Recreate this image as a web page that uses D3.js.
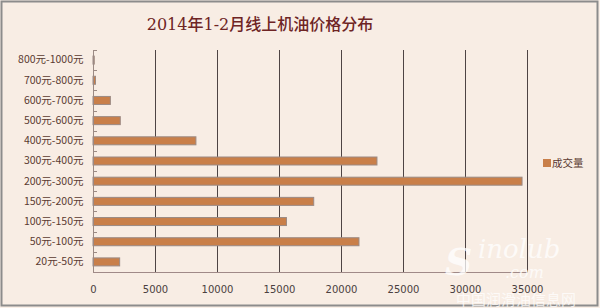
<!DOCTYPE html>
<html>
<head>
<meta charset="utf-8">
<script src="https://cdn.jsdelivr.net/npm/d3@7"></script>
<style>
  body { margin: 0; background: #fff; }
  svg { display: block; }
</style>
</head>
<body>
<script>
var categories = ['800元-1000元', '700元-800元', '600元-700元', '500元-600元', '400元-500元',
    '300元-400元', '200元-300元', '150元-200元', '100元-150元', '50元-100元', '20元-50元'];
var volumes = [100, 200, 1400, 2200, 8300, 22900, 34600, 17800, 15600, 21450, 2150];
var xTicks = [0, 5000, 10000, 15000, 20000, 25000, 30000, 35000];
var seriesName = '成交量';

window.document.addEventListener('DOMContentLoaded', init, false);

function init() {
    var width = 600, height = 308;
    var svg = d3.select('body').append('svg')
        .attr('width', width)
        .attr('height', height);

    // background + frame
    svg.append('rect')
        .attr('x', 0).attr('y', 0)
        .attr('width', width).attr('height', height)
        .attr('fill', '#faf0e8');
    svg.append('rect')
        .attr('x', 1.5).attr('y', 1.5)
        .attr('width', width - 4).attr('height', height - 4)
        .attr('fill', '#f8ede4')
        .attr('stroke', '#8c8c8c')
        .attr('stroke-width', 2);

    var left = 93, right = 527, top = 50, bottom = 272;

    var x = d3.scaleLinear().domain([0, 35000]).range([left, right]);
    var y = d3.scaleBand().domain(categories).range([top, bottom]);

    // title
    svg.append('text')
        .attr('x', 260).attr('y', 30)
        .attr('text-anchor', 'middle')
        .attr('font-family', '"DejaVu Serif", "Liberation Serif", "Noto Sans CJK SC", serif')
        .attr('font-size', 16)
        .attr('font-weight', 500)
        .attr('fill', '#6e2424')
        .text('2014年1-2月线上机油价格分布');

    // gridlines
    svg.append('g').selectAll('line')
        .data(xTicks.slice(1))
        .enter().append('line')
        .attr('x1', (d) => Math.round(x(d)) + 0.5)
        .attr('x2', (d) => Math.round(x(d)) + 0.5)
        .attr('y1', top)
        .attr('y2', bottom)
        .attr('stroke', '#4e4444')
        .attr('stroke-width', 1);

    // bars
    var bh = 8;
    svg.append('g').selectAll('rect')
        .data(categories)
        .enter().append('rect')
        .attr('x', x(0))
        .attr('y', (d) => y(d) + y.bandwidth() / 2 - bh / 2)
        .attr('width', (d, i) => x(volumes[i]) - x(0))
        .attr('height', bh)
        .attr('fill', '#c97f49')
        .attr('stroke', '#9b8a84')
        .attr('stroke-width', 1);

    // axes
    var yAxis = svg.append('g')
        .attr('transform', `translate(${left + 0.5},0)`)
        .call(d3.axisLeft(y).tickSize(0).tickPadding(10));
    yAxis.select('.domain').remove();
    yAxis.selectAll('text')
        .attr('font-family', '"Noto Sans CJK SC", "DejaVu Sans", sans-serif')
        .attr('font-size', 10.5)
        .attr('fill', '#5a3a30');

    // small band ticks pointing right
    svg.append('g').selectAll('line')
        .data(categories)
        .enter().append('line')
        .attr('x1', left)
        .attr('x2', left + 4)
        .attr('y1', (d) => Math.round(y(d)) + 0.5)
        .attr('y2', (d) => Math.round(y(d)) + 0.5)
        .attr('stroke', '#9b8a84');

    svg.append('line')
        .attr('x1', left + 0.5).attr('x2', left + 0.5)
        .attr('y1', top).attr('y2', bottom)
        .attr('stroke', '#9b8a84');
    svg.append('line')
        .attr('x1', left).attr('x2', right + 1)
        .attr('y1', bottom + 0.5).attr('y2', bottom + 0.5)
        .attr('stroke', '#a08a88');

    // watermark (drawn under the tick labels)
    var wm = svg.append('g').attr('fill', '#ffffff').attr('opacity', 0.75);
    wm.append('text')
        .attr('x', 445).attr('y', 275)
        .attr('font-family', '"DejaVu Serif", serif')
        .attr('font-style', 'italic')
        .attr('font-weight', 'bold')
        .attr('font-size', 38)
        .text('S');
    wm.append('text')
        .attr('x', 478).attr('y', 258)
        .attr('font-family', '"DejaVu Serif", serif')
        .attr('font-style', 'italic')
        .attr('font-size', 26)
        .text('inolub');
    wm.append('text')
        .attr('x', 505).attr('y', 278)
        .attr('font-family', '"DejaVu Serif", serif')
        .attr('font-style', 'italic')
        .attr('font-size', 16)
        .text('.com');
    wm.append('text')
        .attr('x', 456).attr('y', 305)
        .attr('font-family', '"Noto Sans CJK SC", sans-serif')
        .attr('font-size', 15)
        .text('中国润滑油信息网');

    var xAxis = svg.append('g')
        .attr('transform', `translate(0,${bottom})`)
        .call(d3.axisBottom(x).tickValues(xTicks).tickSize(0).tickPadding(14).tickFormat(d3.format('d')));
    xAxis.select('.domain').remove();
    xAxis.selectAll('text')
        .attr('font-family', '"DejaVu Sans", sans-serif')
        .attr('font-size', 10)
        .attr('fill', '#4a4040');

    // legend
    svg.append('rect')
        .attr('x', 543).attr('y', 159)
        .attr('width', 8).attr('height', 8)
        .attr('fill', '#c97f49');
    svg.append('text')
        .attr('x', 552).attr('y', 167)
        .attr('font-family', '"Noto Sans CJK SC", sans-serif')
        .attr('font-size', 10.5)
        .attr('fill', '#5a3a30')
        .text(seriesName);
}
</script>
</body>
</html>
